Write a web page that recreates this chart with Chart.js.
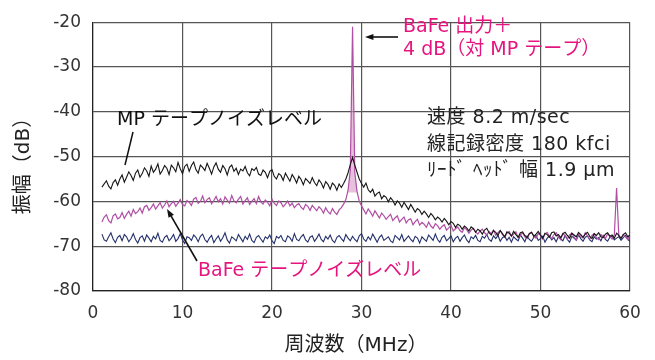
<!DOCTYPE html>
<html>
<head>
<meta charset="utf-8">
<script src="https://cdn.jsdelivr.net/npm/chart.js@4"></script>
<style>
  html, body { margin: 0; padding: 0; background: #fff; }
  #wrap { width: 655px; height: 360px; }
</style>
</head>
<body>
<div id="wrap"><canvas id="spectrum"></canvas></div>
<script>
// sampling: 1.00 .. 60.00 MHz, every 0.25 MHz
const freq = Array.from({ length: 237 }, (_, i) => 1 + i * 0.25);

// MP tape noise level (dB), 8 samples (2 MHz) per row
const mpNoise = [
  -56.8, -56.1, -55.4, -56.6, -57.2, -55.8, -55.2, -56.4,
  -55.0, -54.1, -55.7, -54.6, -53.4, -54.2, -55.3, -53.7,
  -53.0, -54.6, -53.8, -52.5, -53.2, -54.4, -52.1, -53.5,
  -52.8, -51.6, -53.9, -53.1, -52.0, -52.6, -54.0, -51.9,
  -52.5, -53.4, -51.3, -52.7, -53.8, -52.2, -51.7, -53.3,
  -52.0, -51.2, -52.9, -53.7, -51.9, -52.4, -53.1, -51.5,
  -52.6, -53.9, -52.3, -51.4, -52.8, -53.5, -52.0, -52.7,
  -54.1, -52.4, -51.9, -53.3, -52.6, -54.0, -52.8, -53.2,
  -52.2, -53.6, -54.3, -52.7, -53.1, -52.4, -53.9, -54.2,
  -53.0, -53.5, -54.7, -53.3, -52.9, -54.4, -55.0, -53.8,
  -54.2, -55.3, -53.7, -54.6, -55.5, -54.0, -54.8, -55.9,
  -54.4, -55.1, -56.3, -54.9, -55.4, -56.0, -54.7, -55.8,
  -56.5, -55.2, -55.9, -57.0, -55.6, -56.2, -57.3, -55.9,
  -56.4, -57.5, -56.1, -56.9, -56.0, -55.0, -53.6, -51.8,
  -50.2, -51.9, -53.5, -55.0, -56.0, -56.8, -55.9, -57.4,
  -58.0, -57.3, -58.8, -58.2, -57.9, -59.4, -58.7, -59.1,
  -60.1, -59.2, -59.8, -60.8, -59.9, -60.4, -61.3, -60.2,
  -61.0, -61.8, -60.7, -61.5, -62.4, -61.6, -62.0, -62.9,
  -62.2, -62.8, -63.6, -62.7, -63.3, -64.1, -63.5, -63.9,
  -64.6, -63.8, -64.4, -65.2, -64.5, -64.9, -65.8, -65.1,
  -65.4, -66.2, -65.5, -65.9, -66.6, -65.7, -66.1, -66.9,
  -66.2, -66.6, -67.3, -66.4, -66.0, -67.0, -67.5, -66.5,
  -66.9, -67.6, -66.5, -67.2, -67.9, -66.8, -67.1, -67.7,
  -66.7, -67.4, -68.0, -67.0, -66.8, -67.6, -68.1, -67.2,
  -66.9, -67.8, -67.3, -66.7, -67.5, -68.2, -67.1, -67.4,
  -68.0, -67.0, -66.8, -67.7, -67.4, -68.1, -67.2, -66.9,
  -67.6, -68.2, -67.1, -67.5, -67.9, -66.9, -67.4, -68.0,
  -67.3, -66.9, -67.8, -68.3, -67.2, -67.6, -67.0, -67.9,
  -68.1, -67.3, -67.0, -67.8, -67.5, -68.2, -67.1, -67.6,
  -68.3, -67.4, -67.0, -67.9, -67.5
];

// BaFe tape noise level with the 29 MHz signal (dB)
const bafeNoise = [
  -64.6, -63.5, -63.0, -64.3, -64.8, -63.2, -62.8, -63.9,
  -63.6, -62.5, -63.8, -62.9, -62.2, -63.3, -61.8, -62.7,
  -62.3, -61.5, -62.6, -61.2, -60.9, -62.0, -61.4, -60.6,
  -61.7, -61.0, -60.3, -61.5, -60.8, -59.9, -61.2, -60.5,
  -60.0, -61.1, -60.4, -59.6, -60.7, -61.0, -59.8, -60.2,
  -60.9, -59.5, -59.1, -60.4, -60.0, -58.8, -60.3, -59.6,
  -59.2, -60.5, -59.8, -58.9, -60.1, -59.4, -60.6, -59.0,
  -59.7, -60.4, -58.7, -59.9, -60.3, -59.5, -58.9, -60.6,
  -59.8, -59.2, -60.7, -60.0, -59.4, -60.5, -58.9, -60.1,
  -60.6, -59.7, -60.2, -61.0, -59.5, -60.4, -60.9, -59.9,
  -60.3, -61.2, -60.6, -59.9, -61.0, -60.4, -61.4, -60.8,
  -60.5, -61.3, -61.8, -60.7, -61.1, -62.0, -60.9, -61.5,
  -62.1, -61.2, -61.7, -62.6, -61.4, -62.3, -62.8, -61.6,
  -62.4, -62.9, -61.9, -61.4, -60.6, -59.6, -57.5, -53.0,
  -21.0, -53.5, -57.8, -59.9, -61.0, -61.9, -62.8, -61.7,
  -62.4, -63.3, -62.1, -62.9, -63.7, -62.6, -63.2, -64.0,
  -63.4, -62.9, -64.3, -63.7, -63.2, -64.6, -64.0, -63.5,
  -64.8, -64.1, -63.9, -65.2, -64.5, -64.0, -65.3, -64.7,
  -65.1, -65.8, -64.6, -65.5, -66.0, -65.0, -65.4, -66.2,
  -65.6, -65.2, -66.4, -65.9, -65.3, -66.6, -66.1, -65.7,
  -66.5, -66.9, -65.9, -66.3, -67.1, -66.4, -66.0, -66.8,
  -67.3, -66.6, -66.2, -67.0, -67.5, -66.7, -67.2, -66.4,
  -67.6, -67.0, -66.5, -67.4, -68.0, -67.1, -66.7, -67.8,
  -67.3, -66.8, -68.1, -67.5, -67.0, -67.9, -68.3, -67.2,
  -66.9, -67.7, -68.2, -67.1, -67.6, -68.4, -67.3, -66.9,
  -67.8, -68.3, -67.4, -67.0, -67.9, -68.5, -67.2, -67.7,
  -68.4, -67.5, -67.1, -68.0, -68.6, -67.3, -67.8, -68.2,
  -67.0, -67.7, -68.4, -67.6, -67.2, -68.1, -68.5, -67.4,
  -67.9, -68.3, -67.2, -67.8, -68.4, -67.5, -57.0, -67.7,
  -68.2, -67.4, -67.9, -68.5, -67.3
];

// system noise floor (dB)
const sysNoise = [
  -67.3, -68.6, -68.9, -67.9, -67.0, -68.4, -69.2, -68.0,
  -67.6, -68.8, -67.4, -67.9, -69.0, -68.3, -67.2, -68.5,
  -69.3, -68.1, -67.7, -68.9, -67.5, -68.2, -69.0, -67.8,
  -68.4, -67.1, -68.7, -69.1, -68.0, -67.6, -68.8, -68.2,
  -67.4, -68.9, -68.3, -67.2, -68.6, -69.4, -67.9, -68.1,
  -68.7, -67.5, -68.0, -69.0, -67.8, -67.3, -68.5, -69.1,
  -68.2, -67.6, -69.2, -68.4, -67.7, -68.9, -68.1, -67.0,
  -68.6, -69.3, -67.9, -68.3, -68.8, -67.4, -68.2, -69.0,
  -67.8, -68.5, -67.3, -68.7, -69.2, -68.0, -67.6, -68.4,
  -69.1, -67.9, -68.3, -67.5, -68.8, -69.4, -67.8, -68.2,
  -67.6, -68.7, -69.0, -67.7, -68.1, -68.9, -67.2, -68.5,
  -68.8, -67.9, -67.4, -68.6, -69.1, -68.0, -67.7, -68.9,
  -68.2, -67.3, -68.5, -69.0, -67.8, -68.4, -67.5, -68.7,
  -69.2, -68.0, -67.6, -68.3, -68.9, -67.4, -68.2, -68.8,
  -67.8, -68.5, -69.0, -67.7, -67.2, -68.4, -68.9, -67.9,
  -68.6, -67.3, -68.2, -69.1, -68.0, -67.5, -68.7, -68.3,
  -67.9, -68.8, -69.2, -67.6, -68.1, -68.6, -67.4, -68.9,
  -68.3, -67.7, -68.5, -69.0, -67.8, -68.2, -69.3, -67.9,
  -68.4, -68.9, -67.5, -68.1, -68.7, -67.3, -68.5, -69.1,
  -68.0, -67.6, -68.8, -68.3, -67.7, -69.0, -68.2, -67.8,
  -68.9, -68.1, -67.5, -68.6, -69.2, -67.9, -68.3, -67.6,
  -68.7, -69.0, -67.8, -68.2, -67.4, -68.5, -68.9, -67.7,
  -68.3, -67.6, -68.9, -68.1, -67.8, -68.7, -68.0, -69.1,
  -67.9, -68.4, -68.8, -67.5, -68.2, -69.0, -67.7, -68.5,
  -68.9, -68.0, -67.6, -68.7, -68.3, -67.8, -69.1, -68.2,
  -67.7, -68.6, -68.1, -69.0, -67.9, -68.4, -68.8, -67.6,
  -68.5, -69.1, -67.8, -68.2, -68.7, -67.5, -68.3, -68.9,
  -68.0, -67.7, -68.6, -69.0, -67.9, -68.4, -68.1, -68.8,
  -67.6, -68.5, -68.9, -68.0, -67.8, -68.6, -68.2, -67.9,
  -68.7, -68.1, -67.6, -68.5, -68.9
];

// shaded area under the 29 MHz signal peak
const peakFreq = [28.5, 28.75, 29.0, 29.25, 29.5];
const peakDb = [-57.5, -53.0, -21.0, -53.5, -57.8];

const xTicks = [0, 10, 20, 30, 40, 50, 60];
const yTicks = [-80, -70, -60, -50, -40, -30, -20];

const pts = (xs, ys) => xs.map((x, i) => ({ x: x, y: ys[i] }));

const LATIN = '"DejaVu Sans", "Noto Sans CJK JP", sans-serif';
const PINK = '#e5157f';

function arrow(ctx, x1, y1, x2, y2, color) {
  // line from (x1,y1) to the tip (x2,y2)
  const a = Math.atan2(y2 - y1, x2 - x1);
  ctx.strokeStyle = color;
  ctx.fillStyle = color;
  ctx.lineWidth = 1.6;
  ctx.beginPath();
  ctx.moveTo(x1, y1);
  ctx.lineTo(x2 - Math.cos(a) * 6, y2 - Math.sin(a) * 6);
  ctx.stroke();
  ctx.beginPath();
  ctx.moveTo(x2, y2);
  ctx.lineTo(x2 - Math.cos(a - 0.35) * 9, y2 - Math.sin(a - 0.35) * 9);
  ctx.lineTo(x2 - Math.cos(a + 0.35) * 9, y2 - Math.sin(a + 0.35) * 9);
  ctx.closePath();
  ctx.fill();
}

const labels = {
  id: 'labels',
  afterDraw(chart) {
    const ctx = chart.ctx;
    ctx.save();
    ctx.textBaseline = 'middle';
    ctx.textAlign = 'left';

    ctx.fillStyle = '#111';
    ctx.font = '19px ' + LATIN;
    ctx.fillText('MP テープノイズレベル', 117, 120);
    ctx.strokeStyle = '#111';
    ctx.lineWidth = 1.5;
    ctx.beginPath();
    ctx.moveTo(133, 132);
    ctx.lineTo(125, 165);
    ctx.stroke();

    ctx.fillStyle = PINK;
    ctx.fillText('BaFe テープノイズレベル', 198, 271);
    arrow(ctx, 197, 261, 167, 209, '#111');

    ctx.fillStyle = PINK;
    ctx.fillText('BaFe 出力＋', 403, 27);
    ctx.fillText('4 dB（対 MP テープ）', 403, 50);
    arrow(ctx, 398, 37, 365, 37, '#111');

    ctx.fillStyle = '#222';
    ctx.letterSpacing = '0.5px';
    ctx.fillText('速度 8.2 m/sec', 427, 118);
    ctx.fillText('線記録密度 180 kfci', 427, 145);
    ctx.fillText('ﾘｰﾄﾞ ﾍｯﾄﾞ 幅 1.9 µm', 427, 171);
    ctx.letterSpacing = '0px';

    // axis titles
    ctx.fillStyle = '#222';
    ctx.font = '20px ' + LATIN;
    ctx.textAlign = 'center';
    ctx.fillText('周波数（MHz）', 356, 346);
    ctx.translate(24, 161);
    ctx.rotate(-Math.PI / 2);
    ctx.fillText('振幅（dB）', 0, 0);
    ctx.restore();
  }
};

new Chart(document.getElementById('spectrum'), {
  type: 'line',
  data: {
    datasets: [
      {
        data: pts(peakFreq, peakDb),
        borderWidth: 0,
        backgroundColor: 'rgba(215,150,200,0.6)',
        fill: { value: -58 },
        pointRadius: 0,
        order: 4
      },
      {
        data: pts(freq, sysNoise),
        borderColor: '#24306b',
        borderWidth: 1.1,
        pointRadius: 0,
        order: 3
      },
      {
        data: pts(freq, bafeNoise),
        borderColor: '#b04ea2',
        borderWidth: 1.2,
        pointRadius: 0,
        order: 2
      },
      {
        data: pts(freq, mpNoise),
        borderColor: '#151515',
        borderWidth: 1.1,
        pointRadius: 0,
        order: 1
      }
    ]
  },
  options: {
    responsive: true,
    maintainAspectRatio: false,
    animation: false,
    layout: { padding: { left: 0, right: 25, top: 18, bottom: 0 } },
    plugins: { legend: { display: false }, tooltip: { enabled: false } },
    scales: {
      x: {
        type: 'linear',
        min: 0,
        max: 60,
        afterBuildTicks: s => { s.ticks = xTicks.map(v => ({ value: v })); },
        afterFit: s => { s.height = 69; },
        ticks: { padding: 12, color: '#333', font: { size: 17, family: LATIN } },
        grid: { color: '#555', lineWidth: 1.2, drawTicks: false },
        border: { color: '#222', width: 1.2 }
      },
      y: {
        min: -80,
        max: -20,
        afterBuildTicks: s => { s.ticks = yTicks.map(v => ({ value: v })); },
        afterFit: s => { s.width = 93; },
        ticks: { padding: 12, color: '#333', font: { size: 17, family: LATIN } },
        grid: { color: '#555', lineWidth: 1.2, drawTicks: false },
        border: { color: '#222', width: 1.2 }
      }
    }
  },
  plugins: [labels]
});
</script>
</body>
</html>
